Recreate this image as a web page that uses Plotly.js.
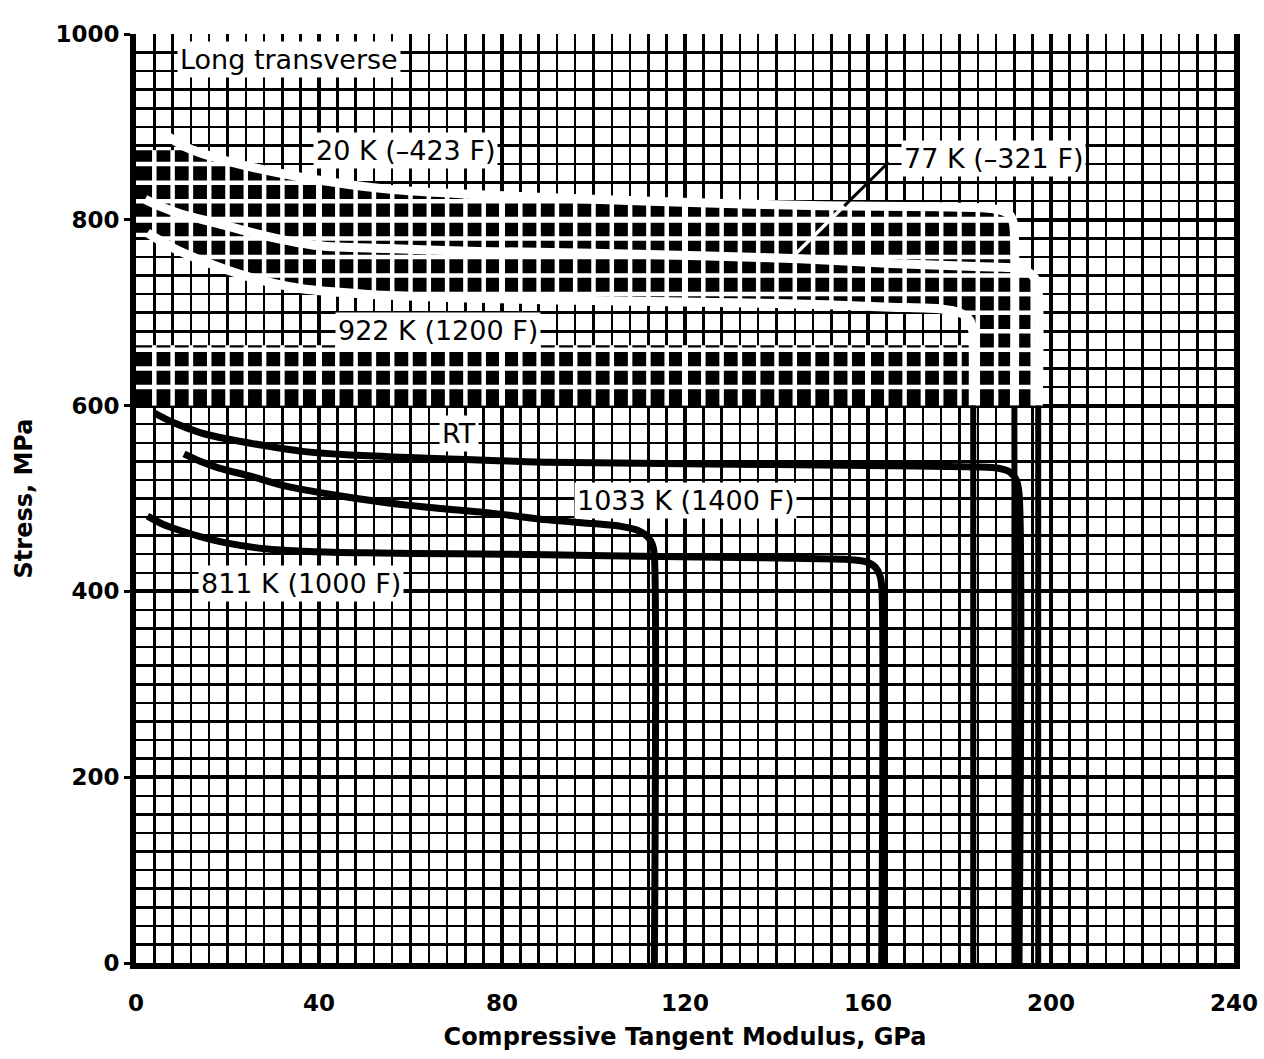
<!DOCTYPE html>
<html>
<head>
<meta charset="utf-8">
<script src="https://cdn.plot.ly/plotly-3.0.1.min.js"></script>
<style>
  html, body { margin: 0; padding: 0; background: #fff; }
  #chart { width: 1264px; height: 1059px; }
</style>
</head>
<body>
<div id="chart"></div>
<script>
// Compressive tangent modulus curves, long transverse direction.
// x = tangent modulus (GPa), y = stress (MPa)

const rtX = [4, 8, 14, 20, 28, 36, 46, 58, 72, 90, 110, 130, 150, 170, 184, 188.5, 191, 192.4, 193, 193];
const rtY = [592, 582, 571, 564, 557, 551, 547, 544.5, 542, 539, 538, 537, 536, 535, 534, 532.5, 528.5, 520, 506, 0];

const k1033X = [10.5, 14, 18, 25, 33, 43, 54, 65, 78, 90, 100, 106, 109.5, 111.8, 112.9, 113.3, 113.3];
const k1033Y = [548, 540, 533, 524, 513, 504, 496, 490, 484, 477, 473, 470, 466, 459, 450, 438, 0];

const k811X = [2.5, 6, 10, 14, 20, 28, 38, 50, 70, 90, 115, 140, 155, 159.5, 161.6, 162.6, 163, 163];
const k811Y = [481, 472, 465, 459, 452, 446, 443, 441.5, 440.5, 439.5, 437.5, 436, 434.5, 432, 426, 417, 405, 0];

const k20X = [6, 11, 18, 25, 36, 55, 75, 100, 125, 150, 175, 185, 188.8, 191, 191.8, 192, 192];
const k20Y = [893, 878, 866, 857, 846, 833, 827, 822, 818, 815, 814, 813, 810.5, 805, 796, 785, 0];

const k77X = [2, 5, 10, 18, 28, 40, 55, 75, 100, 125, 145, 165, 185, 191, 194.5, 196.5, 197.2, 197.2];
const k77Y = [822, 815, 806, 796, 783, 772, 769, 766, 764, 761, 758, 753, 749.5, 748.5, 745, 737, 722, 0];

const k922X = [2.5, 8, 15, 25, 36, 50, 70, 100, 140, 165, 176, 180, 182.2, 182.9, 183, 183];
const k922Y = [786, 770, 755, 738, 726, 720, 716, 713, 710, 706, 704, 700, 692, 680, 660, 0];

// pointer from the 77 K label to its curve
const ptrX = [164.5, 143.5];
const ptrY = [862, 760];

const xTicks = [0, 40, 80, 120, 160, 200, 240];
const yTicks = [0, 200, 400, 600, 800, 1000];

const labels = [
  { text: 'Long transverse', x: 33.5, y: 973 },
  { text: '20 K (–423 F)', x: 59, y: 875 },
  { text: '77 K (–321 F)', x: 187.5, y: 866 },
  { text: '922 K (1200 F)', x: 66, y: 681 },
  { text: 'RT', x: 70.5, y: 570 },
  { text: '1033 K (1400 F)', x: 120, y: 498 },
  { text: '811 K (1000 F)', x: 36, y: 408 }
];

// ---- dark band of the sheet (600 MPa and up), with the upper curves reversed out in white ----
const CUT = 600;
const CAP_X = 12.5, CAP_Y = 875;   // flat top of the band at the far left
const BAND2_TOP = 665;             // top of the lower dark strip

function splitAt(xs, ys, cut) {
  const up = [], low = [];
  for (let i = 0; i < xs.length; i++) {
    if (ys[i] >= cut) up.push([xs[i], ys[i]]);
    if (i > 0 && ys[i - 1] >= cut && ys[i] < cut) {
      const t = (cut - ys[i - 1]) / (ys[i] - ys[i - 1]);
      const p = [xs[i - 1] + t * (xs[i] - xs[i - 1]), cut];
      up.push(p); low.push(p);
    }
    if (ys[i] < cut) low.push([xs[i], ys[i]]);
  }
  return { up, low };
}
function interpX(xs, ys, x) {
  for (let i = 1; i < xs.length; i++) {
    if (xs[i] >= x && xs[i - 1] <= x && xs[i] !== xs[i - 1]) {
      const t = (x - xs[i - 1]) / (xs[i] - xs[i - 1]);
      return ys[i - 1] + t * (ys[i] - ys[i - 1]);
    }
  }
  return ys[ys.length - 1];
}

const s20 = splitAt(k20X, k20Y, CUT);
const s77 = splitAt(k77X, k77Y, CUT);
const s922 = splitAt(k922X, k922Y, CUT);
const x20v = k20X[k20X.length - 1];
const x922v = k922X[k922X.length - 1];

const poly1 = [[0, CAP_Y], [CAP_X, CAP_Y]]
  .concat(s20.up.filter(p => p[0] > CAP_X))
  .concat(s922.up.slice().reverse())
  .concat([[0, k922Y[0]]]);
const poly2 = [[0, CUT], [x922v, CUT], [x922v, BAND2_TOP], [0, BAND2_TOP]];
const poly3 = [[x20v, CUT], [x20v, interpX(k77X, k77Y, x20v)]]
  .concat(s77.up.filter(p => p[0] > x20v));

const polys = [poly1, poly2, poly3];

function crossings(poly, c, vertical) {
  const out = [];
  for (let i = 0; i < poly.length; i++) {
    const a = poly[i], b = poly[(i + 1) % poly.length];
    const pa = vertical ? a[0] : a[1], qa = vertical ? a[1] : a[0];
    const pb = vertical ? b[0] : b[1], qb = vertical ? b[1] : b[0];
    if ((pa < c) !== (pb < c)) {
      const t = (c - pa) / (pb - pa);
      out.push(qa + t * (qb - qa));
    }
  }
  out.sort((m, n) => m - n);
  const segs = [];
  for (let i = 0; i + 1 < out.length; i += 2) segs.push([out[i], out[i + 1]]);
  return segs;
}

// white grid lines inside the dark band
const gMinor = { x: [], y: [] }, gMajor = { x: [], y: [] };
for (let gx = 4; gx < 240; gx += 4) {
  const g = gx % 40 === 0 ? gMajor : gMinor;
  polys.forEach(pl => crossings(pl, gx, true).forEach(s => {
    g.x.push(gx, gx, null); g.y.push(s[0], s[1], null);
  }));
}
for (let gy = 20; gy < 1000; gy += 20) {
  const g = gy % 200 === 0 ? gMajor : gMinor;
  polys.forEach(pl => crossings(pl, gy, false).forEach(s => {
    g.x.push(s[0], s[1], null); g.y.push(gy, gy, null);
  }));
}

// pointer: black outside the band, white inside
let tSplit = 1;
for (let i = 0; i <= 1000; i++) {
  const t = i / 1000;
  const px = ptrX[0] + t * (ptrX[1] - ptrX[0]);
  const py = ptrY[0] + t * (ptrY[1] - ptrY[0]);
  if (py <= interpX(k20X.slice(0, -1), k20Y.slice(0, -1), px)) { tSplit = t; break; }
}
const ptrMid = [ptrX[0] + tSplit * (ptrX[1] - ptrX[0]), ptrY[0] + tSplit * (ptrY[1] - ptrY[0])];

const traces = [];
polys.forEach(pl => traces.push({
  x: pl.map(p => p[0]).concat([pl[0][0]]),
  y: pl.map(p => p[1]).concat([pl[0][1]]),
  mode: 'lines', fill: 'toself', fillcolor: '#000',
  line: { width: 0, color: '#000' }, hoverinfo: 'skip'
}));
traces.push({ x: gMinor.x, y: gMinor.y, mode: 'lines', line: { color: '#fff', width: 4.5 }, hoverinfo: 'skip' });
traces.push({ x: gMajor.x, y: gMajor.y, mode: 'lines', line: { color: '#fff', width: 6 }, hoverinfo: 'skip' });

function curve(pts, color, width) {
  return {
    x: pts.map(p => p[0]), y: pts.map(p => p[1]), mode: 'lines',
    line: { color: color, width: width, shape: 'spline', smoothing: 0.8 }, hoverinfo: 'skip'
  };
}
// upper curves: white inside the dark band, black below it
[s20, s77, s922].forEach(s => {
  traces.push(curve(s.up, '#fff', 9));
  traces.push(curve(s.low, '#000', 6));
});
// lower curves
[[rtX, rtY], [k1033X, k1033Y], [k811X, k811Y]].forEach(c => {
  traces.push(curve(c[0].map((x, i) => [x, c[1][i]]), '#000', 7));
});
traces.push({ x: [ptrX[0], ptrMid[0]], y: [ptrY[0], ptrMid[1]], mode: 'lines', line: { color: '#000', width: 3 }, hoverinfo: 'skip' });
traces.push({ x: [ptrMid[0], ptrX[1]], y: [ptrMid[1], ptrY[1]], mode: 'lines', line: { color: '#fff', width: 3.5 }, hoverinfo: 'skip' });

const tickFont = { family: 'DejaVu Sans, sans-serif', size: 23, color: '#000', weight: 'bold' };
const titleFont = { family: 'DejaVu Sans, sans-serif', size: 24, color: '#000', weight: 'bold' };

const layout = {
  width: 1264, height: 1059,
  margin: { l: 136, r: 30, t: 34, b: 96 },
  paper_bgcolor: '#fff', plot_bgcolor: '#fff',
  showlegend: false,
  xaxis: {
    range: [0, 240], tickvals: xTicks, ticktext: xTicks.map(String),
    showgrid: true, gridcolor: '#000', gridwidth: 4,
    minor: { dtick: 4, tick0: 0, showgrid: true, gridcolor: '#000', gridwidth: 2.5, ticks: '' },
    showline: true, linecolor: '#000', linewidth: 6, mirror: false,
    ticks: '', ticklabelstandoff: 14, zeroline: false,
    tickfont: tickFont,
    title: { text: 'Compressive Tangent Modulus, GPa', font: titleFont, standoff: 16 }
  },
  yaxis: {
    range: [0, 1000], tickvals: yTicks, ticktext: yTicks.map(String),
    showgrid: true, gridcolor: '#000', gridwidth: 4,
    minor: { dtick: 20, tick0: 0, showgrid: true, gridcolor: '#000', gridwidth: 2.5, ticks: '' },
    showline: true, linecolor: '#000', linewidth: 6, mirror: true,
    ticks: 'outside', ticklen: 6, tickwidth: 3, tickcolor: '#000', zeroline: false,
    tickfont: tickFont,
    title: { text: 'Stress, MPa', font: titleFont, standoff: 18 }
  },
  annotations: labels.map(l => ({
    text: l.text, x: l.x, y: l.y, xref: 'x', yref: 'y', showarrow: false,
    font: { family: 'DejaVu Sans, sans-serif', size: 27, color: '#000' },
    bgcolor: '#fff', borderpad: 2
  }))
};

Plotly.newPlot('chart', traces, layout, { staticPlot: true, displayModeBar: false });
</script>
</body>
</html>
